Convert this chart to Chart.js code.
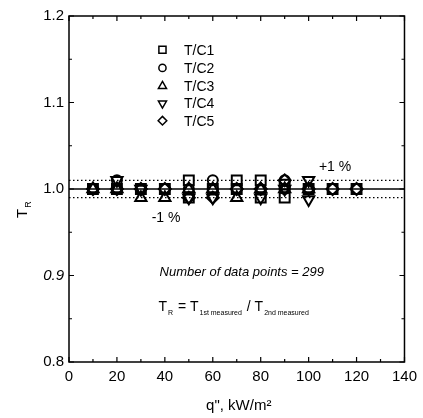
<!DOCTYPE html>
<html><head><meta charset="utf-8">
<script src="https://cdn.jsdelivr.net/npm/chart.js@4/dist/chart.umd.min.js"></script>
<style>html,body{margin:0;padding:0;background:#fff}#wrap{width:423px;height:418px;position:relative}</style>
</head><body><div id="wrap"><canvas id="c"></canvas></div>
<script>
// ---- data ----
const seriesNames = ['T/C1', 'T/C2', 'T/C3', 'T/C4', 'T/C5'];
const tc1X = [10, 20, 30, 40, 50, 50, 60, 70, 70, 80, 80, 90, 90, 100, 110, 120];
const tc1Y = [1.0, 1.0, 1.0, 1.0, 1.01, 0.99, 1.0, 1.01, 1.0, 1.01, 0.99, 1.005, 0.99, 1.0, 1.0, 1.0];
const tc2X = [10, 20, 20, 30, 40, 50, 60, 60, 70, 80, 90, 90, 100, 110, 120];
const tc2Y = [1.0, 1.01, 1.0, 1.0, 1.0, 1.0, 1.01, 1.0, 1.0, 1.0, 1.01, 1.0, 1.0, 1.0, 1.0];
const tc3X = [10, 20, 30, 40, 50, 60, 70, 80, 90, 100];
const tc3Y = [1.0, 1.0, 0.99, 0.99, 1.0, 1.0, 0.99, 1.0, 1.0, 1.0];
const tc4X = [20, 30, 50, 60, 80, 90, 100, 100];
const tc4Y = [1.01, 1.0, 0.99, 0.99, 0.99, 1.0, 1.01, 0.988];
const tc5X = [10, 20, 30, 40, 50, 60, 70, 80, 90, 100, 110, 120];
const tc5Y = [1.0, 1.0, 1.0, 1.0, 0.99, 0.99, 1.0, 1.0, 1.01, 1.0, 1.0, 1.0];
const xTickLabels = [0, 20, 40, 60, 80, 100, 120, 140];
const yTickLabels = [0.8, 0.9, 1.0, 1.1, 1.2];
const refLine = 1.0;
const refUpper = 1.01;
const refLower = 0.99;
const xRange = [0, 140];
const yRange = [0.8, 1.2];

const FONT = '"Liberation Sans", Arial, sans-serif';
const pts = (xs, ys) => xs.map((x, i) => ({ x: x, y: ys[i] }));
const styles = [
  { pointStyle: 'rect', radius: 7, rotation: 0 },
  { pointStyle: 'circle', radius: 5, rotation: 0 },
  { pointStyle: 'triangle', radius: 6.5, rotation: 0 },
  { pointStyle: 'triangle', radius: 6.5, rotation: 180 },
  { pointStyle: 'rectRot', radius: 6, rotation: 0 }
];
const seriesData = [pts(tc1X, tc1Y), pts(tc2X, tc2Y), pts(tc3X, tc3Y), pts(tc4X, tc4Y), pts(tc5X, tc5Y)];

const datasets = seriesData.map((d, i) => ({
  label: seriesNames[i],
  data: d,
  showLine: false,
  pointStyle: styles[i].pointStyle,
  pointRadius: styles[i].radius,
  pointRotation: styles[i].rotation,
  pointBorderWidth: 2,
  pointBorderColor: '#000',
  pointBackgroundColor: 'rgba(0,0,0,0)',
  order: 1
}));
const mkLine = (y, dash) => ({
  label: 'ref' + y,
  data: [{ x: xRange[0], y: y }, { x: xRange[1], y: y }],
  showLine: true, pointRadius: 0, borderColor: '#000', borderWidth: 1.3,
  borderDash: dash ? [1.5, 2.5] : [], order: 5
});
datasets.push(mkLine(refLine, false), mkLine(refUpper, true), mkLine(refLower, true));

const framePlugin = {
  id: 'frame',
  afterDraw(chart) {
    const ctx = chart.ctx, a = chart.chartArea;
    const xs = chart.scales.x, ys = chart.scales.y;
    ctx.save();
    ctx.strokeStyle = '#000';
    ctx.lineWidth = 1.5;
    ctx.strokeRect(a.left, a.top, a.right - a.left, a.bottom - a.top);
    ctx.lineWidth = 1.2;
    ctx.beginPath();
    for (let v = xRange[0]; v <= xRange[1]; v += 10) {
      const px = xs.getPixelForValue(v);
      const len = (v % 20 === 0) ? 5 : 3;
      ctx.moveTo(px, a.bottom); ctx.lineTo(px, a.bottom - len);
      ctx.moveTo(px, a.top); ctx.lineTo(px, a.top + len);
    }
    for (let k = 0; k <= 8; k++) {
      const v = yRange[0] + k * 0.05;
      const py = ys.getPixelForValue(v);
      const len = (k % 2 === 0) ? 5 : 3;
      ctx.moveTo(a.left, py); ctx.lineTo(a.left + len, py);
      ctx.moveTo(a.right, py); ctx.lineTo(a.right - len, py);
    }
    ctx.stroke();

    // legend inside plot
    const legX = xs.getPixelForValue(39), txtX = xs.getPixelForValue(48);
    const legY = [1.161, 1.140, 1.119, 1.099, 1.079];
    ctx.font = '14px ' + FONT;
    ctx.textBaseline = 'middle';
    ctx.textAlign = 'left';
    seriesNames.forEach((n, i) => {
      const py = ys.getPixelForValue(legY[i]);
      ctx.lineWidth = 1.5;
      ctx.strokeStyle = '#000';
      ctx.fillStyle = 'rgba(0,0,0,0)';
      Chart.helpers.drawPoint(ctx, {
        pointStyle: styles[i].pointStyle, rotation: styles[i].rotation,
        radius: styles[i].radius * 0.72, borderWidth: 1.5
      }, legX, py);
      ctx.fillStyle = '#000';
      ctx.fillText(n, txtX, py + 1);
    });

    // annotations
    ctx.fillStyle = '#000';
    ctx.textBaseline = 'middle';
    ctx.font = '14px ' + FONT;
    ctx.fillText('+1 %', xs.getPixelForValue(104.3), ys.getPixelForValue(1.025));
    ctx.fillText('-1 %', xs.getPixelForValue(34.5), ys.getPixelForValue(0.9665));
    ctx.font = 'italic 13px ' + FONT;
    ctx.fillText('Number of data points = 299', xs.getPixelForValue(37.8), ys.getPixelForValue(0.904));

    // T_R formula
    ctx.textBaseline = 'alphabetic';
    let cx = xs.getPixelForValue(37.3);
    const by = ys.getPixelForValue(0.8585);
    const big = '14px ' + FONT, small = '7px ' + FONT;
    const parts = [['T', big, 0], ['R', small, 4], [' = T', big, 0], ['1st measured', small, 4], [' / T', big, 0], ['2nd measured', small, 4]];
    parts.forEach(p => {
      ctx.font = p[1];
      ctx.fillText(p[0], cx, by + p[2]);
      cx += ctx.measureText(p[0]).width + 1;
    });

    // axis titles
    ctx.font = '15px ' + FONT;
    ctx.textAlign = 'center';
    ctx.textBaseline = 'alphabetic';
    ctx.fillText('q", kW/m\u00B2', (a.left + a.right) / 2 + 2, 410);

    ctx.save();
    ctx.translate(27, 218);
    ctx.rotate(-Math.PI / 2);
    ctx.textAlign = 'left';
    ctx.font = '15px ' + FONT;
    ctx.fillText('T', 0, 0);
    const tw = ctx.measureText('T').width;
    ctx.font = '9px ' + FONT;
    ctx.fillText('R', tw + 1, 4);
    ctx.restore();
    ctx.restore();
  }
};

new Chart(document.getElementById('c'), {
  type: 'scatter',
  data: { datasets: datasets },
  options: {
    responsive: true,
    maintainAspectRatio: false,
    animation: false,
    layout: { padding: { top: 16, right: 17, left: 0, bottom: 0 } },
    plugins: { legend: { display: false }, tooltip: { enabled: false } },
    scales: {
      x: {
        type: 'linear', min: xRange[0], max: xRange[1],
        afterFit: s => { s.height = 56; },
        afterBuildTicks: s => { s.ticks = xTickLabels.map(v => ({ value: v })); },
        grid: { display: false, drawTicks: false },
        border: { display: false },
        ticks: { color: '#000', font: { family: FONT, size: 15 }, padding: 6, maxRotation: 0, autoSkip: false,
          callback: v => String(v) }
      },
      y: {
        type: 'linear', min: yRange[0], max: yRange[1],
        afterFit: s => { s.width = 69; },
        afterBuildTicks: s => { s.ticks = yTickLabels.map(v => ({ value: v })); },
        grid: { display: false, drawTicks: false },
        border: { display: false },
        ticks: { color: '#000', padding: 5, autoSkip: false,
          font: c => ({ family: FONT, size: 15, style: (c.tick && Math.abs(c.tick.value - 0.9) < 1e-9) ? 'italic' : 'normal' }),
          callback: v => Number(v).toFixed(1) }
      }
    }
  },
  plugins: [framePlugin]
});
</script>
</body></html>
